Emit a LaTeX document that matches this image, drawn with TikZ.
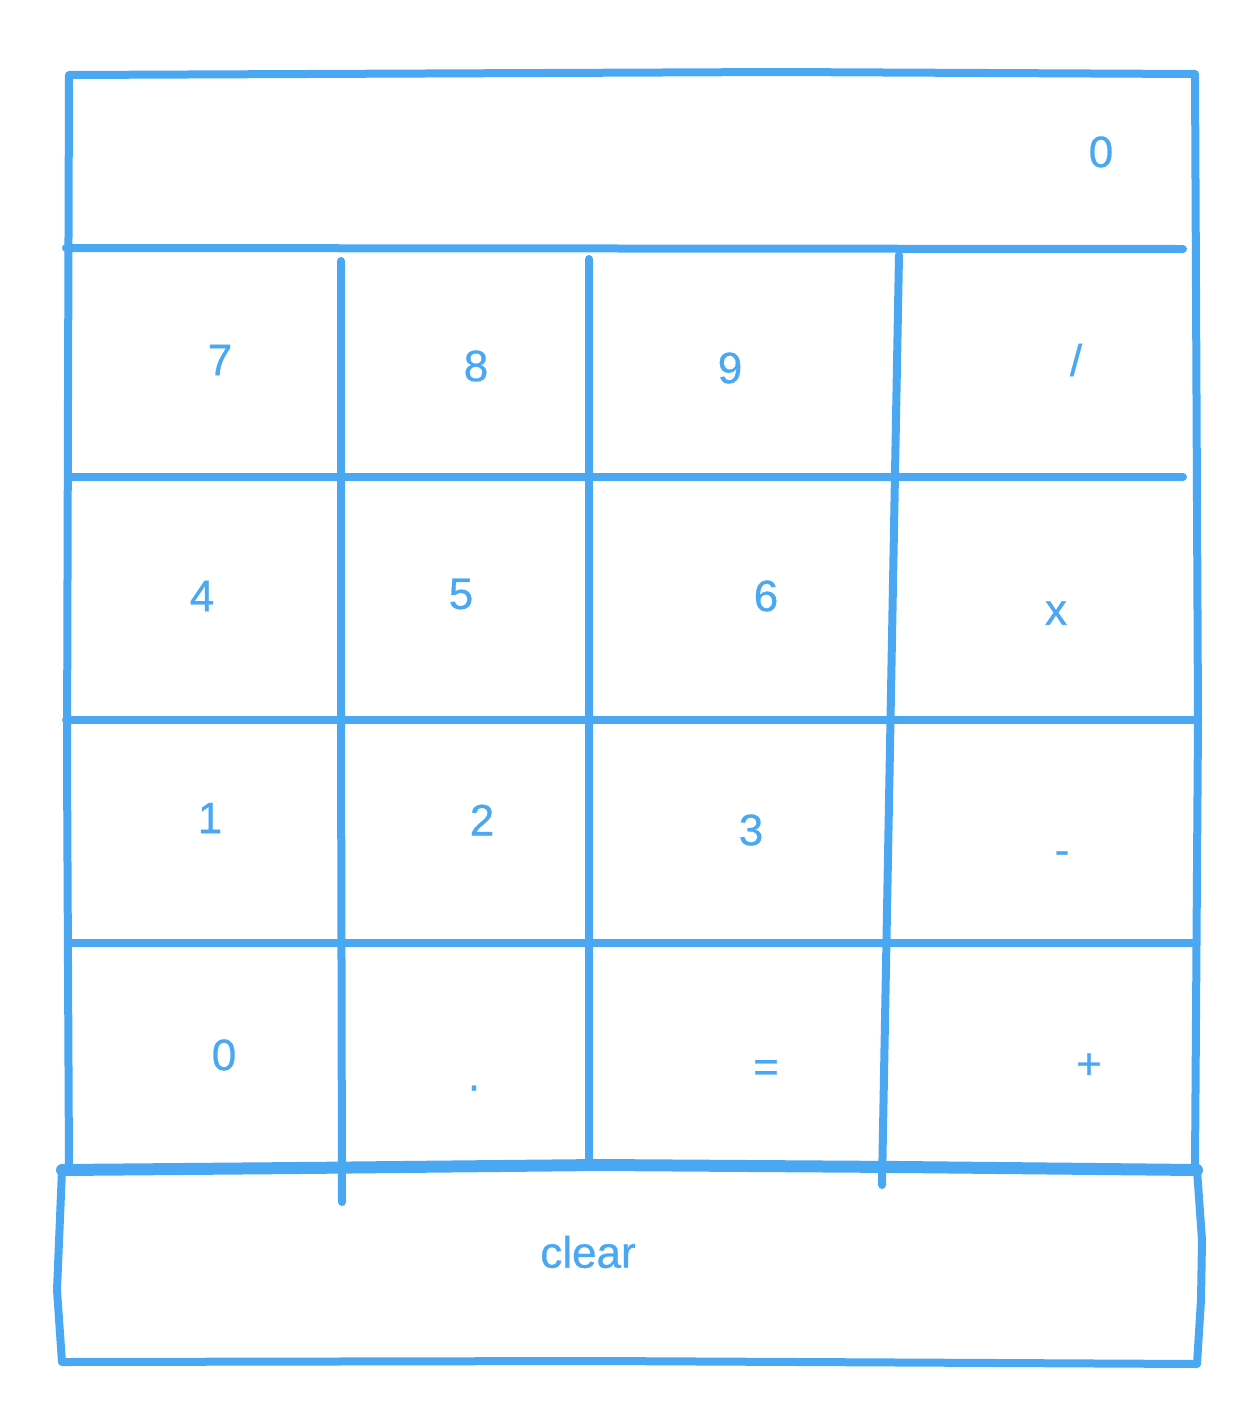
\documentclass[tikz,border=0pt]{standalone}
\usepackage{fontspec}
\setmainfont{Liberation Sans}
\newfontfamily\keyfont{Liberation Sans}[FakeBold=0.6]
\definecolor{sketchblue}{RGB}{74,168,242}
\begin{document}
\begin{tikzpicture}[x=1pt,y=-1pt,
  ln/.style={draw=sketchblue,line width=8pt,line cap=round,line join=round},
  thick ln/.style={draw=sketchblue,line width=12pt,line cap=round,line join=round},
  key/.style={text=sketchblue,font=\keyfont\fontsize{44}{52}\selectfont,inner sep=0pt,anchor=center}]
\useasboundingbox[fill=white] (0,0) rectangle (1260,1422);
% outer frame
\draw[ln] (69,1168) -- (67,760) -- (68,400) -- (69,75) -- (780,72) -- (1195,74) -- (1198,720) -- (1195,1166);
% horizontal lines
\draw[ln] (66,248) -- (1183,249);
\draw[ln] (70,477) -- (1183,477);
\draw[ln] (66,720) -- (1197,720);
\draw[ln] (70,943) -- (1193,943);
% vertical lines
\draw[ln] (341,261) -- (341,720) -- (342,1202);
\draw[ln] (589,259) -- (589,1163);
\draw[ln] (899,255) -- (882,1185);
% bottom box
\draw[ln] (62,1170) -- (57,1290) -- (62,1362) -- (600,1361) -- (1197,1364) -- (1201,1300) -- (1202,1240) -- (1197,1170);
\draw[thick ln] (62,1170) -- (300,1168) -- (600,1165) -- (900,1167) -- (1197,1170);
% texts
\node[key] (disp) at (1101,152) {0};
\node[key] (k7) at (220,360) {7};
\node[key] (k8) at (476,366) {8};
\node[key] (k9) at (730,368) {9};
\node[key] (kdiv) at (1076,360) {/};
\node[key] (k4) at (202,596) {4};
\node[key] (k5) at (461,594) {5};
\node[key] (k6) at (766,596) {6};
\node[key] (kmul) at (1056,613) {x};
\node[key] (k1) at (210,818) {1};
\node[key] (k2) at (482,820) {2};
\node[key] (k3) at (751,830) {3};
\node[key] (ksub) at (1062,858) {-};
\node[key] (k0) at (224,1055) {0};
\node[key] (kdot) at (474,1088) {.};
\node[key] (keq) at (766,1071) {=};
\node[key] (kadd) at (1089,1066) {+};
\node[key] (kclear) at (588,1252) {clear};
\end{tikzpicture}
\end{document}
